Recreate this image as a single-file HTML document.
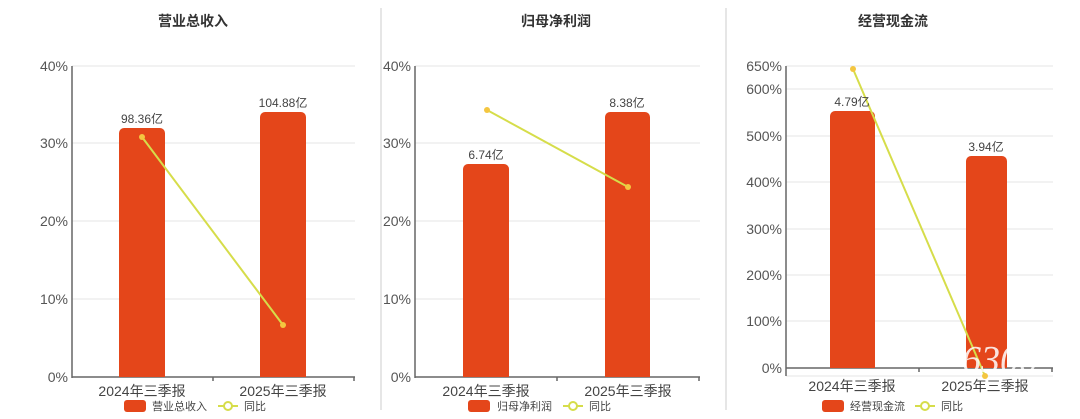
<!DOCTYPE html>
<html><head><meta charset="utf-8"><style>
body{margin:0;background:#fff;}
svg{display:block;font-family:"Liberation Sans","Noto Sans CJK SC",sans-serif;}
</style></head><body>
<svg width="1080" height="419" viewBox="0 0 1080 419" xmlns="http://www.w3.org/2000/svg">
<rect width="1080" height="419" fill="#fff"/>
<line x1="381" y1="8" x2="381" y2="410" stroke="#ccc"/>
<line x1="726" y1="8" x2="726" y2="410" stroke="#ccc"/>
<g font-size="14" fill="#555" text-anchor="end">
<g stroke="#e6e6e6"><line x1="72" y1="66" x2="355" y2="66"/><line x1="72" y1="143" x2="355" y2="143"/><line x1="72" y1="221" x2="355" y2="221"/><line x1="72" y1="299" x2="355" y2="299"/></g>
<text x="68" y="71">40%</text><text x="68" y="148">30%</text><text x="68" y="226">20%</text><text x="68" y="304">10%</text><text x="68" y="382">0%</text>
<g stroke="#e6e6e6"><line x1="415" y1="66" x2="700" y2="66"/><line x1="415" y1="143" x2="700" y2="143"/><line x1="415" y1="221" x2="700" y2="221"/><line x1="415" y1="299" x2="700" y2="299"/></g>
<text x="411" y="71">40%</text><text x="411" y="148">30%</text><text x="411" y="226">20%</text><text x="411" y="304">10%</text><text x="411" y="382">0%</text>
<g stroke="#e6e6e6"><line x1="786" y1="66" x2="1053" y2="66"/><line x1="786" y1="89" x2="1053" y2="89"/><line x1="786" y1="136" x2="1053" y2="136"/><line x1="786" y1="182" x2="1053" y2="182"/><line x1="786" y1="229" x2="1053" y2="229"/><line x1="786" y1="275" x2="1053" y2="275"/><line x1="786" y1="321" x2="1053" y2="321"/><line x1="786" y1="376" x2="1053" y2="376"/></g>
<text x="782" y="71">650%</text><text x="782" y="94">600%</text><text x="782" y="141">500%</text><text x="782" y="187">400%</text><text x="782" y="234">300%</text><text x="782" y="280">200%</text><text x="782" y="326">100%</text><text x="782" y="373">0%</text>
</g>
<g stroke="#666" stroke-width="1.5">
<line x1="72" y1="66" x2="72" y2="378"/><line x1="72" y1="377" x2="355" y2="377"/><line x1="213" y1="377" x2="213" y2="381"/><line x1="354" y1="377" x2="354" y2="381"/>
<line x1="415" y1="66" x2="415" y2="378"/><line x1="415" y1="377" x2="700" y2="377"/><line x1="557" y1="377" x2="557" y2="381"/><line x1="699" y1="377" x2="699" y2="381"/>
<line x1="786" y1="66" x2="786" y2="376"/><line x1="786" y1="368" x2="1053" y2="368"/><line x1="919" y1="368" x2="919" y2="372"/><line x1="1052" y1="368" x2="1052" y2="372"/>
</g>
<g fill="#e4461a">
<path d="M119 377V133a5 5 0 0 1 5-5h36a5 5 0 0 1 5 5V377z"/>
<path d="M260 377V117a5 5 0 0 1 5-5h36a5 5 0 0 1 5 5V377z"/>
<path d="M463 377V169a5 5 0 0 1 5-5h36a5 5 0 0 1 5 5V377z"/>
<path d="M605 377V117a5 5 0 0 1 5-5h35a5 5 0 0 1 5 5V377z"/>
<path d="M830 368V116a5 5 0 0 1 5-5h35a5 5 0 0 1 5 5V368z"/>
<path d="M966 368V161a5 5 0 0 1 5-5h31a5 5 0 0 1 5 5V368z"/>
</g>
<g stroke="#d6dd4a" stroke-width="2" fill="#f4c640">
<line x1="142" y1="137" x2="283" y2="325"/><circle cx="142" cy="137" r="3" stroke="none"/><circle cx="283" cy="325" r="3" stroke="none"/>
<line x1="487" y1="110" x2="628" y2="187"/><circle cx="487" cy="110" r="3" stroke="none"/><circle cx="628" cy="187" r="3" stroke="none"/>
<line x1="853" y1="69" x2="985" y2="376"/><circle cx="853" cy="69" r="3" stroke="none"/><circle cx="985" cy="376" r="3" stroke="none"/>
</g>
<g font-size="12" fill="#444" text-anchor="middle">
<text x="142" y="123">98.36亿</text><text x="283" y="107">104.88亿</text>
<text x="486" y="159">6.74亿</text><text x="627" y="107">8.38亿</text>
<text x="852" y="106">4.79亿</text><text x="986" y="151">3.94亿</text>
</g>
<g font-size="14" fill="#333" text-anchor="middle" font-weight="bold">
<text x="193" y="26">营业总收入</text><text x="556" y="26">归母净利润</text><text x="893" y="26">经营现金流</text>
</g>
<g font-size="14" fill="#444" text-anchor="middle">
<text x="142" y="396">2024年三季报</text><text x="283" y="396">2025年三季报</text>
<text x="486" y="396">2024年三季报</text><text x="628" y="396">2025年三季报</text>
<text x="852" y="391">2024年三季报</text><text x="985" y="391">2025年三季报</text>
</g>
<g font-size="11" fill="#444">
<rect x="124" y="400" width="22" height="12" rx="3" fill="#e4461a"/><text x="152" y="410">营业总收入</text>
<line x1="218" y1="406" x2="238" y2="406" stroke="#d6dd4a" stroke-width="2"/><circle cx="228" cy="406" r="4" fill="#fff" stroke="#d6dd4a" stroke-width="2"/><text x="244" y="410">同比</text>
<rect x="468" y="400" width="22" height="12" rx="3" fill="#e4461a"/><text x="497" y="410">归母净利润</text>
<line x1="563" y1="406" x2="583" y2="406" stroke="#d6dd4a" stroke-width="2"/><circle cx="573" cy="406" r="4" fill="#fff" stroke="#d6dd4a" stroke-width="2"/><text x="589" y="410">同比</text>
<rect x="822" y="400" width="22" height="12" rx="3" fill="#e4461a"/><text x="850" y="410">经营现金流</text>
<line x1="915" y1="406" x2="935" y2="406" stroke="#d6dd4a" stroke-width="2"/><circle cx="925" cy="406" r="4" fill="#fff" stroke="#d6dd4a" stroke-width="2"/><text x="941" y="410">同比</text>
</g>
<text x="1000" y="372" font-size="38" font-style="italic" font-family="Liberation Serif,serif" fill="#fff" opacity="0.85" text-anchor="middle">6300</text>
</svg>
</body></html>
